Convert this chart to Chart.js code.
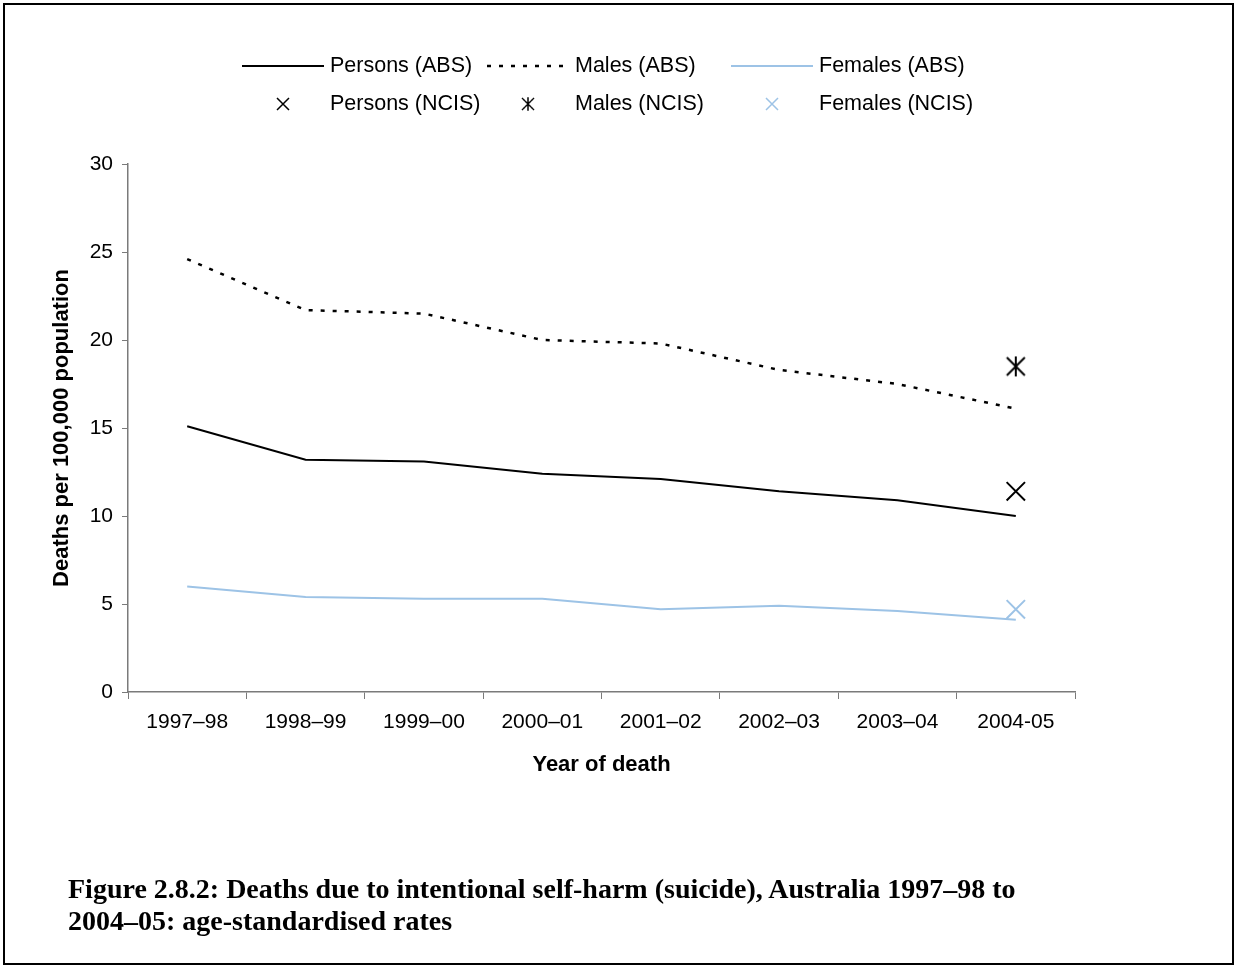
<!DOCTYPE html>
<html>
<head>
<meta charset="utf-8">
<script src="https://cdn.jsdelivr.net/npm/chart.js@4.4.1/dist/chart.umd.min.js"></script>
<style>
  html, body { margin: 0; padding: 0; background: #fff; }
  #page { position: relative; width: 1236px; height: 967px; overflow: hidden; }
  #frame { position: absolute; left: 3px; top: 3px; width: 1227px; height: 958px; border: 2px solid #000; }
  #chart-wrap { position: absolute; left: 0; top: 0; width: 1236px; height: 967px; }
  #caption {
    position: absolute; left: 68px; top: 873px; width: 1150px;
    font-family: "Liberation Serif", "DejaVu Serif", serif; font-weight: bold;
    font-size: 28px; line-height: 32px; color: #000;
  }
</style>
</head>
<body>
<div id="page">
  <div id="frame"></div>
  <div id="chart-wrap"><canvas id="suicide-rates"></canvas></div>
  <div id="caption">Figure 2.8.2: Deaths due to intentional self-harm (suicide), Australia 1997–98 to<br>2004–05: age-standardised rates</div>
</div>
<script>
var years = ['1997–98', '1998–99', '1999–00', '2000–01', '2001–02', '2002–03', '2003–04', '2004-05'];
var personsAbs = [15.1, 13.2, 13.1, 12.4, 12.1, 11.4, 10.9, 10.0];
var malesAbs = [24.6, 21.7, 21.5, 20.0, 19.8, 18.3, 17.5, 16.1];
var femalesAbs = [6.0, 5.4, 5.3, 5.3, 4.7, 4.9, 4.6, 4.1];
var personsNcis = [null, null, null, null, null, null, null, 11.4];
var malesNcis = [null, null, null, null, null, null, null, 18.5];
var femalesNcis = [null, null, null, null, null, null, null, 4.7];
var yTicks = [0, 5, 10, 15, 20, 25, 30];

var FONT = '"Liberation Sans", Arial, sans-serif';
var LIGHT_BLUE = '#9DC3E6';

// asterisk-like marker: an X with a vertical stroke
function makeStar(color) {
  var c = document.createElement('canvas');
  c.width = 24; c.height = 24;
  var g = c.getContext('2d');
  g.strokeStyle = color;
  g.lineWidth = 2;
  g.beginPath();
  g.moveTo(3, 3); g.lineTo(21, 21);
  g.moveTo(21, 3); g.lineTo(3, 21);
  g.moveTo(12, 2); g.lineTo(12, 22);
  g.stroke();
  return c;
}
var starMark = makeStar('#000');

// legend drawn in two rows of three columns
var legendSlots = [
  { x: 242, y: 66 }, { x: 487, y: 66 }, { x: 731, y: 66 },
  { x: 242, y: 104 }, { x: 487, y: 104 }, { x: 731, y: 104 }
];
var legendPlugin = {
  id: 'gridLegend',
  afterDraw: function (chart) {
    var ctx = chart.ctx;
    ctx.save();
    chart.data.datasets.forEach(function (ds, i) {
      var s = legendSlots[i];
      if (!s) return;
      if (ds.showLine !== false) {
        ctx.strokeStyle = ds.borderColor;
        ctx.lineWidth = ds.borderWidth;
        ctx.setLineDash(ds.borderDash || []);
        ctx.beginPath();
        ctx.moveTo(s.x, s.y);
        ctx.lineTo(s.x + 82, s.y);
        ctx.stroke();
        ctx.setLineDash([]);
      } else {
        var cx = s.x + 41;
        if (ds.pointStyle instanceof HTMLCanvasElement) {
          ctx.drawImage(ds.pointStyle, cx - 8, s.y - 8, 16, 16);
        } else {
          ctx.strokeStyle = ds.borderColor;
          ctx.lineWidth = 1.5;
          ctx.beginPath();
          ctx.moveTo(cx - 6, s.y - 6); ctx.lineTo(cx + 6, s.y + 6);
          ctx.moveTo(cx + 6, s.y - 6); ctx.lineTo(cx - 6, s.y + 6);
          ctx.stroke();
        }
      }
      ctx.fillStyle = '#000';
      ctx.font = '21.5px ' + FONT;
      ctx.textBaseline = 'middle';
      ctx.fillText(ds.label, s.x + 88, s.y);
    });
    ctx.restore();
  }
};

var ctx = document.getElementById('suicide-rates');
var chart = new Chart(ctx, {
  type: 'line',
  data: {
    labels: years,
    datasets: [
      { label: 'Persons (ABS)', data: personsAbs, borderColor: '#000', borderWidth: 2, pointRadius: 0, fill: false },
      { label: 'Males (ABS)', data: malesAbs, borderColor: '#000', borderWidth: 2.5, borderDash: [4, 8], pointRadius: 0, fill: false },
      { label: 'Females (ABS)', data: femalesAbs, borderColor: LIGHT_BLUE, borderWidth: 2, pointRadius: 0, fill: false },
      { label: 'Persons (NCIS)', data: personsNcis, showLine: false, borderColor: '#000', pointStyle: 'crossRot', pointRadius: 13, pointBorderWidth: 2, pointBorderColor: '#000' },
      { label: 'Males (NCIS)', data: malesNcis, showLine: false, borderColor: '#000', pointStyle: starMark, pointRadius: 12 },
      { label: 'Females (NCIS)', data: femalesNcis, showLine: false, borderColor: LIGHT_BLUE, pointStyle: 'crossRot', pointRadius: 13, pointBorderWidth: 2, pointBorderColor: LIGHT_BLUE }
    ]
  },
  options: {
    responsive: true,
    maintainAspectRatio: false,
    animation: false,
    layout: { padding: { left: 45, right: 161, top: 164, bottom: 185 } },
    plugins: {
      legend: { display: false },
      tooltip: { enabled: false },
      title: { display: false }
    },
    scales: {
      x: {
        offset: true,
        grid: { offset: true, drawOnChartArea: false, drawTicks: true, tickLength: 7, color: '#7a7a7a' },
        border: { color: '#7a7a7a', width: 1.5 },
        ticks: { color: '#000', font: { family: FONT, size: 21 }, padding: 11, maxRotation: 0 },
        title: { display: true, text: 'Year of death', color: '#000', font: { family: FONT, size: 22, weight: 'bold' } },
        afterFit: function (scale) { scale.height = 90; }
      },
      y: {
        min: 0,
        max: 30,
        afterBuildTicks: function (scale) { scale.ticks = yTicks.map(function (v) { return { value: v }; }); },
        grid: { drawOnChartArea: false, drawTicks: true, tickLength: 6, color: '#7a7a7a' },
        border: { color: '#7a7a7a', width: 1.5 },
        ticks: { color: '#000', font: { family: FONT, size: 21 }, padding: 9 },
        title: { display: true, text: 'Deaths per 100,000 population', color: '#000', font: { family: FONT, size: 22, weight: 'bold' } },
        afterFit: function (scale) { scale.width = 83; }
      }
    }
  },
  plugins: [legendPlugin]
});
</script>
</body>
</html>
